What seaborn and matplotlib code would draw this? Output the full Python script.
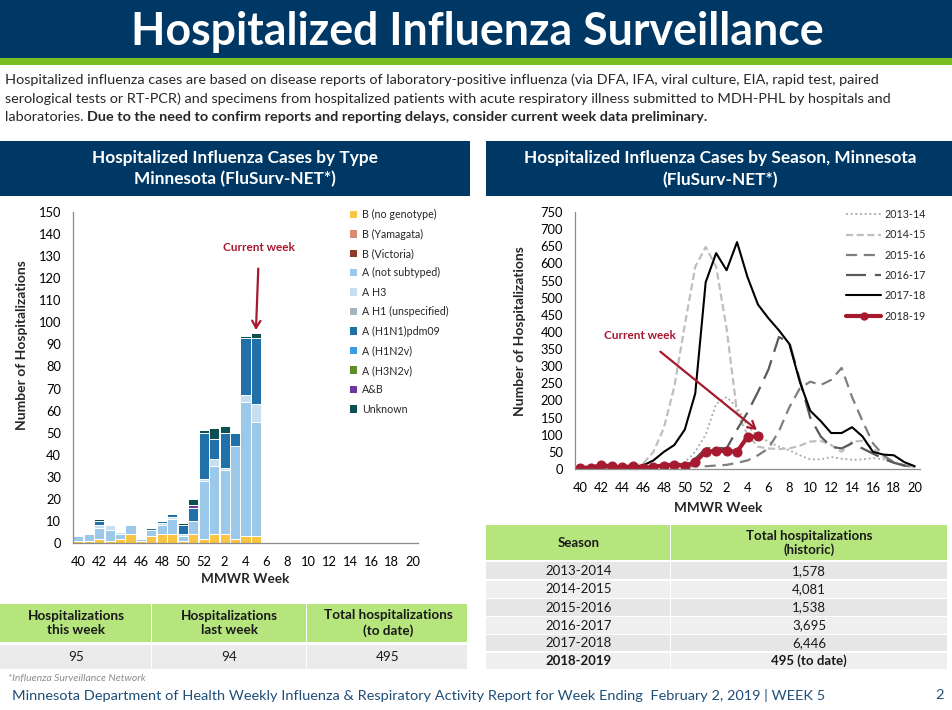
import matplotlib
matplotlib.use("Agg")
import matplotlib.pyplot as plt
from matplotlib.patches import Rectangle, Patch
from matplotlib.lines import Line2D
import seaborn as sns
import pandas as pd
import numpy as np

# ---------------- data ----------------
week_labels = [40, 41, 42, 43, 44, 45, 46, 47, 48, 49, 50, 51, 52,
               1, 2, 3, 4, 5, 6, 7, 8, 9, 10, 11, 12, 13, 14, 15, 16, 17, 18, 19, 20]
current_weeks = [40, 41, 42, 43, 44, 45, 46, 47, 48, 49, 50, 51, 52, 1, 2, 3, 4, 5]

type_names = ["B (no genotype)", "B (Yamagata)", "B (Victoria)", "A (not subtyped)", "A H3",
              "A H1 (unspecified)", "A (H1N1)pdm09", "A (H1N2v)", "A (H3N2v)", "A&B", "Unknown"]
type_colors = ["#F7C443", "#D88C74", "#8E3B2C", "#9CC8E9", "#C6E0F2",
               "#A4B6BB", "#2170A8", "#3A9BE6", "#5E8C2A", "#6F35A0", "#0D4F52"]

b_no_genotype = [1, 1, 2, 1, 2, 4, 1, 3, 4, 4, 1, 4, 2, 4, 4, 2, 3, 3]
a_not_subtyped = [2, 3, 5, 5, 2, 4, 1, 3, 4, 7, 2, 6, 26, 31, 29, 42, 61, 52]
a_h3 = [0, 0, 1, 2, 1, 0, 0, 0, 1, 1, 1, 0, 1, 3, 1, 0, 3, 8]
a_h1n1pdm09 = [0, 0, 2, 0, 0, 0, 0, 1, 1, 1, 4, 6, 21, 9, 16, 6, 26, 30]
a_and_b = [0, 0, 0, 0, 0, 0, 0, 0, 0, 0, 0, 1, 0, 0, 0, 0, 0, 0]
unknown = [0, 0, 1, 0, 0, 0, 0, 0, 0, 0, 1, 3, 1, 5, 3, 0, 1, 2]

season_names = ["2013-14", "2014-15", "2015-16", "2016-17", "2017-18", "2018-19"]
s2013_14 = [1, 1, 2, 2, 2, 3, 3, 4, 6, 12, 20, 50, 100, 190, 210, 180, 125, 95, 80, 65, 55,
            40, 28, 28, 35, 30, 27, 28, 32, 28, 20, 12, 5]
s2014_15 = [2, 3, 3, 4, 5, 8, 15, 50, 120, 240, 420, 590, 648, 590, 410, 165, 100, 65, 60,
            58, 60, 68, 80, 82, 70, 50, 80, 82, 60, 35, 20, 10, 5]
s2015_16 = [5, 5, 6, 6, 7, 7, 8, 8, 8, 8, 8, 8, 8, 10, 12, 18, 25, 40, 60, 110, 180, 235,
            255, 245, 260, 295, 210, 140, 75, 40, 20, 10, 6]
s2016_17 = [2, 2, 3, 3, 4, 5, 6, 8, 10, 12, 15, 30, 60, 62, 60, 115, 165, 225, 290, 385,
            370, 260, 150, 95, 65, 60, 75, 60, 45, 30, 18, 10, 5]
s2017_18 = [3, 3, 5, 5, 5, 6, 10, 25, 50, 70, 115, 220, 545, 630, 580, 662, 560, 480, 440,
            405, 365, 255, 170, 140, 105, 105, 122, 95, 50, 42, 40, 20, 8]

table1_headers = ["Hospitalizations\nthis week", "Hospitalizations\nlast week",
                  "Total hospitalizations\n(to date)"]
table1_values = ["95", "94", "495"]
table2_seasons = ["2013-2014", "2014-2015", "2015-2016", "2016-2017", "2017-2018", "2018-2019"]
table2_totals = ["1,578", "4,081", "1,538", "3,695", "6,446", "495 (to date)"]

# ---------------- style ----------------
sns.set_theme(style="white")
FONT = ["Lato", "DejaVu Sans"]
plt.rcParams["font.family"] = FONT

NAVY = "#003865"
GREEN = "#78BE21"
TGREEN = "#B6E57E"
RED = "#A6192E"
AXC = "#8C8C8C"

W, H = 953, 710
fig = plt.figure(figsize=(W / 100, H / 100), dpi=100)


def fx(x):
    return x / W


def fy(y):
    return 1 - y / H


def rect(x0, y0, x1, y1, color):
    fig.add_artist(Rectangle((fx(x0), fy(y1)), fx(x1) - fx(x0), fy(y0) - fy(y1),
                             transform=fig.transFigure, facecolor=color, edgecolor="none",
                             zorder=0))


def ftext(x, y, s, **kw):
    kw.setdefault("ha", "center")
    kw.setdefault("va", "center")
    return fig.text(fx(x), fy(y), s, **kw)


# banner
rect(0, 0, W, 58, NAVY)
rect(0, 58, W, 65, GREEN)
ftext(477, 32, "Hospitalized Influenza Surveillance", color="white", fontsize=32.1,
      fontweight="bold")

# description
DESC = 10.38
ftext(5, 80, "Hospitalized influenza cases are based on disease reports of laboratory-positive "
      "influenza (via DFA, IFA, viral culture, EIA, rapid test, paired", ha="left", fontsize=DESC)
ftext(5, 99, "serological tests or RT-PCR) and specimens from hospitalized patients with acute "
      "respiratory illness submitted to MDH-PHL by hospitals and", ha="left", fontsize=DESC)
t_norm = ftext(5, 117, "laboratories. ", ha="left", fontsize=DESC)
fig.canvas.draw()
bb = t_norm.get_window_extent()
fig.text(bb.x1 / W, fy(117), "Due to the need to confirm reports and reporting delays, "
         "consider current week data preliminary.", ha="left", va="center", fontsize=DESC,
         fontweight="bold")

# panel headers
rect(0, 141, 470, 196, NAVY)
rect(486, 141, W, 196, NAVY)
ftext(235, 158, "Hospitalized Influenza Cases by Type", color="white", fontsize=12.4,
      fontweight="bold")
ftext(235, 179, "Minnesota (FluSurv-NET*)", color="white", fontsize=12.4, fontweight="bold")
ftext(720, 158, "Hospitalized Influenza Cases by Season, Minnesota", color="white",
      fontsize=12.4, fontweight="bold")
ftext(720, 180, "(FluSurv-NET*)", color="white", fontsize=12.4, fontweight="bold")

# ---------------- left chart: stacked bars ----------------
axL = fig.add_axes([fx(73), fy(543), fx(418) - fx(73), fy(212) - fy(543)])
stack_series = {
    "B (no genotype)": b_no_genotype,
    "A (not subtyped)": a_not_subtyped,
    "A H3": a_h3,
    "A (H1N1)pdm09": a_h1n1pdm09,
    "A&B": a_and_b,
    "Unknown": unknown,
}
rows = []
for name, vals in stack_series.items():
    for i, v in enumerate(vals):
        rows.append({"idx": i, "type": name, "count": v})
df_bars = pd.DataFrame(rows)
palette = dict(zip(type_names, type_colors))
present = list(stack_series.keys())
sns.histplot(data=df_bars, x="idx", weights="count", hue="type",
             hue_order=present[::-1], multiple="stack", discrete=True, shrink=0.96,
             palette=palette, edgecolor="white", linewidth=0.7, alpha=1, legend=False,
             ax=axL)
axL.set_xlim(-0.5, 32.5)
axL.set_ylim(0, 150)
axL.set_yticks(range(0, 151, 10))
axL.set_xticks(range(0, 33, 2))
axL.set_xticklabels([str(w) for w in week_labels[::2]])
axL.set_xticks(range(0, 33), minor=True)

# legend left
handles = [Patch(facecolor=c, edgecolor="none", label=n) for n, c in zip(type_names, type_colors)]
axL.legend(handles=handles, loc="upper left", bbox_to_anchor=(fx(350), fy(209)),
           bbox_transform=fig.transFigure, frameon=False, fontsize=7.7, handlelength=0.7,
           handleheight=0.7, handletextpad=0.4, labelspacing=0.79, borderaxespad=0,
           borderpad=0)

totals = [sum(v[i] for v in stack_series.values()) for i in range(len(current_weeks))]
axL.annotate("Current week", xy=(17, totals[-1] + 1.5), xytext=(17.3, 134),
             ha="center", va="center", fontsize=8.5, fontweight="bold", color=RED,
             arrowprops=dict(arrowstyle="->,head_width=0.35,head_length=0.6", color=RED, lw=1.6,
                             shrinkA=9, shrinkB=0))

# ---------------- right chart: lines ----------------
axR = fig.add_axes([fx(575), fy(469), fx(920) - fx(575), fy(212) - fy(469)])
idx_all = list(range(len(week_labels)))
season_series = [s2013_14, s2014_15, s2015_16, s2016_17, s2017_18]
line_styles = [
    dict(color="#A6A6A6", lw=1.3, dashes=(1, 1.6)),
    dict(color="#BFBFBF", lw=1.6, dashes=(3.2, 1.6)),
    dict(color="#7F7F7F", lw=1.6, dashes=(5, 3)),
    dict(color="#595959", lw=1.6, dashes=(9, 4)),
    dict(color="black", lw=1.5, dashes=None),
]
legend_handles = []
for name, vals, st in zip(season_names[:5], season_series, line_styles):
    sns.lineplot(x=idx_all, y=vals, ax=axR, color=st["color"], linewidth=st["lw"],
                 legend=False)
    ln = axR.lines[-1]
    if st["dashes"] is not None:
        ln.set_dashes(st["dashes"])
    h = Line2D([0], [0], color=st["color"], lw=st["lw"])
    if st["dashes"] is not None:
        h.set_dashes(st["dashes"])
    h.set_label(name)
    legend_handles.append(h)

sns.lineplot(x=list(range(len(current_weeks))), y=totals, ax=axR, color=RED, linewidth=3,
             marker="o", markersize=6.5, markeredgecolor=RED, legend=False)
legend_handles.append(Line2D([0], [0], color=RED, lw=3, marker="o", markersize=5,
                             label=season_names[5]))

axR.set_xlim(-0.5, 32.5)
axR.set_ylim(0, 750)
axR.set_yticks(range(0, 751, 50))
axR.set_xticks(range(0, 33, 2))
axR.set_xticklabels([str(w) for w in week_labels[::2]])
axR.set_xticks(range(0, 33), minor=True)
axR.legend(handles=legend_handles, loc="upper left", bbox_to_anchor=(fx(846), fy(209)),
           bbox_transform=fig.transFigure, frameon=False, fontsize=7.7, handlelength=3.3,
           handletextpad=0.3, labelspacing=0.87, borderaxespad=0, borderpad=0)
axR.annotate("Current week", xy=(16.9, 114), xytext=(5.7, 391), ha="center", va="center",
             fontsize=8.5, fontweight="bold", color=RED,
             arrowprops=dict(arrowstyle="->,head_width=0.35,head_length=0.6", color=RED,
                             lw=1.6, shrinkA=9, shrinkB=0))

for ax in (axL, axR):
    ax.set_facecolor("none")
    for s in ("top", "right"):
        ax.spines[s].set_visible(False)
    for s in ("left", "bottom"):
        ax.spines[s].set_color(AXC)
        ax.spines[s].set_linewidth(0.9)
    ax.tick_params(axis="both", which="both", direction="out", color=AXC, width=0.8,
                   labelsize=9.3, labelcolor="black")
    ax.tick_params(axis="x", which="major", length=4, pad=5)
    ax.tick_params(axis="x", which="minor", length=4)
    ax.tick_params(axis="y", length=3.5, pad=5)
    ax.grid(False)
    ax.set_xlabel("")
    ax.set_ylabel("")

ftext(22, 345, "Number of Hospitalizations", rotation=90, fontsize=10, fontweight="bold")
ftext(245, 579, "MMWR Week", fontsize=9.8, fontweight="bold")
ftext(520, 331, "Number of Hospitalizations", rotation=90, fontsize=10, fontweight="bold")
ftext(718, 508, "MMWR Week", fontsize=9.8, fontweight="bold")

# ---------------- left table ----------------
cols1 = [0, 152, 307, 469]
for c0, c1, hdr, val in zip(cols1[:-1], cols1[1:], table1_headers, table1_values):
    rect(c0, 604, c1 - 1.5, 642, TGREEN)
    rect(c0, 645, c1 - 1.5, 669, "#EBEBEB")
    ftext((c0 + c1) / 2, 623, hdr, fontsize=9.7, fontweight="bold", color="#1a1a1a",
          linespacing=1.22)
    ftext((c0 + c1) / 2, 657, val, fontsize=9.7, color="#1a1a1a")

# ---------------- right table ----------------
cols2 = [486, 671, 947]
rect(cols2[0], 525, cols2[1] - 1.5, 560, TGREEN)
rect(cols2[1], 525, cols2[2], 560, TGREEN)
ftext((cols2[0] + cols2[1]) / 2, 543, "Season", fontsize=9.5, fontweight="bold",
      color="#1a1a1a")
ftext((cols2[1] + cols2[2]) / 2, 543, "Total hospitalizations\n(historic)", fontsize=9.5,
      fontweight="bold", color="#1a1a1a", linespacing=1.2)
row_edges = [562, 580.5, 599, 617, 635, 652.5, 670]
for k, (season, tot) in enumerate(zip(table2_seasons, table2_totals)):
    r0, r1 = row_edges[k], row_edges[k + 1]
    shade = "#E6E6E6" if k % 2 == 0 else "#EFEFEF"
    rect(cols2[0], r0, cols2[1] - 1.5, r1 - 1.2, shade)
    rect(cols2[1], r0, cols2[2], r1 - 1.2, shade)
    wt = "bold" if k == len(table2_seasons) - 1 else "normal"
    ftext((cols2[0] + cols2[1]) / 2, (r0 + r1) / 2 - 0.5, season, fontsize=9.5,
          fontweight=wt, color="#1a1a1a")
    ftext((cols2[1] + cols2[2]) / 2, (r0 + r1) / 2 - 0.5, tot, fontsize=9.5, fontweight=wt,
          color="#1a1a1a")

# ---------------- footer ----------------
ftext(8, 678, "*Influenza Surveillance Network", ha="left", fontsize=7.5, style="italic",
      color="#8C8C8C")
ftext(12, 695, "Minnesota Department of Health Weekly Influenza & Respiratory Activity Report "
      "for Week Ending  February 2, 2019 | WEEK 5", ha="left", fontsize=10.43, color="#1F4E79")
ftext(940, 695, "2", fontsize=10.43, color="#1F4E79")

fig.savefig("out.png", dpi=100)
